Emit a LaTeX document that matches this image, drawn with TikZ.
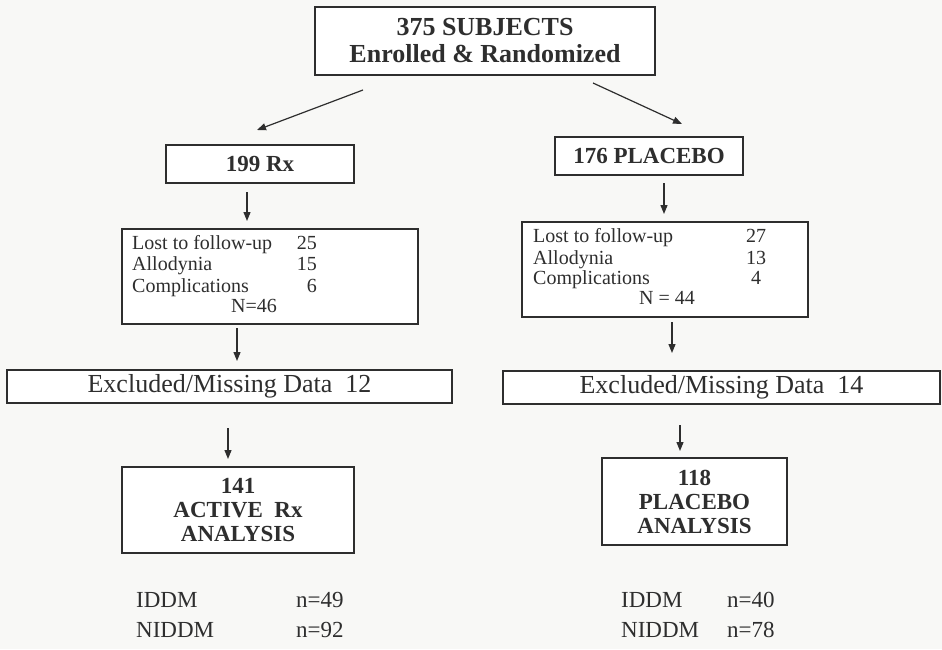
\documentclass[tikz,border=0pt]{standalone}
\usepackage{fontspec}
\setmainfont{Liberation Serif}
\usetikzlibrary{arrows.meta}
\definecolor{ink}{HTML}{2E2E2E}
\definecolor{paper}{HTML}{F8F8F6}
\begin{document}
\begin{tikzpicture}[x=1pt,y=-1pt,
  boldbox/.style={draw=ink,line width=2.8pt,fill=white,text=ink,font=\bfseries\fontsize{23}{24}\selectfont,align=center,inner sep=0pt},
  thinbox/.style={draw=ink,line width=1.3pt,fill=white,inner sep=0pt},
  exbox/.style={draw=ink,line width=1.3pt,fill=white,inner sep=0pt,text=ink,font=\fontsize{26}{27}\selectfont},
  txt/.style={text=ink,inner sep=0pt,text height=0.68em,text depth=0.2em},
  listtxt/.style={txt,font=\fontsize{20}{21}\selectfont},
  lowtxt/.style={txt,font=\fontsize{23}{24}\selectfont},
  conn/.style={draw=ink,line width=1.2pt,-{Triangle[length=9pt,width=7pt]}}
]
\fill[paper] (0,0) rectangle (942,649);
\useasboundingbox (0,0) rectangle (942,649);

% boxes
\node[boldbox,minimum width=340pt,minimum height=68pt,font=\bfseries\fontsize{26}{27}\selectfont] (top) at (485,41) {375 SUBJECTS\\Enrolled \& Randomized};
\node[boldbox,minimum width=188pt,minimum height=38pt] (rx) at (260,164) {199 Rx};
\node[boldbox,minimum width=188pt,minimum height=38pt] (pl) at (649,156) {176 PLACEBO};
\node[thinbox,minimum width=296pt,minimum height=95pt] (ll) at (270,276.5) {};
\node[thinbox,minimum width=286pt,minimum height=95pt] (rl) at (665,269.5) {};
\node[exbox,minimum width=445pt,minimum height=33pt] (le) at (229.5,386.5) {Excluded/Missing Data\ \ 12};
\node[exbox,minimum width=437pt,minimum height=33pt] (re) at (721.5,387.5) {Excluded/Missing Data\ \ 14};
\node[boldbox,minimum width=232pt,minimum height=86pt] (ra) at (238,510) {141\\ACTIVE\ \ Rx\\ANALYSIS};
\node[boldbox,minimum width=185pt,minimum height=87pt] (pa) at (694.5,501.5) {118\\PLACEBO\\ANALYSIS};

% left list text
\node[listtxt,anchor=west] (l1) at (132,247) {Lost to follow-up};
\node[listtxt,anchor=west] (l2) at (132,268) {Allodynia};
\node[listtxt,anchor=west] (l3) at (132,290) {Complications};
\node[listtxt,anchor=east] (l1n) at (317,247) {25};
\node[listtxt,anchor=east] (l2n) at (317,268) {15};
\node[listtxt,anchor=east] (l3n) at (317,290) {6};
\node[listtxt] (lN) at (254,310) {N=46};

% right list text
\node[listtxt,anchor=west] (r1) at (533,240) {Lost to follow-up};
\node[listtxt,anchor=west] (r2) at (533,262) {Allodynia};
\node[listtxt,anchor=west] (r3) at (533,282) {Complications};
\node[listtxt] (r1n) at (756,240) {27};
\node[listtxt] (r2n) at (756,262) {13};
\node[listtxt] (r3n) at (756,282) {4};
\node[listtxt] (rN) at (667,302) {N = 44};

% bottom text
\node[lowtxt,anchor=west] (b1) at (136,605) {IDDM};
\node[lowtxt,anchor=west] (b2) at (296,605) {n=49};
\node[lowtxt,anchor=west] (b3) at (136,635) {NIDDM};
\node[lowtxt,anchor=west] (b4) at (296,635) {n=92};
\node[lowtxt,anchor=west] (b5) at (621,605) {IDDM};
\node[lowtxt,anchor=west] (b6) at (727,605) {n=40};
\node[lowtxt,anchor=west] (b7) at (621,635) {NIDDM};
\node[lowtxt,anchor=west] (b8) at (727,635) {n=78};

% connector ends
\coordinate (a1s) at (363,90);  \coordinate (a1e) at (257,130);
\coordinate (a2s) at (593,83);  \coordinate (a2e) at (682,124);
\coordinate (a3s) at (247,192); \coordinate (a3e) at (247,221);
\coordinate (a4s) at (664,183); \coordinate (a4e) at (664,214);
\coordinate (a5s) at (237,328); \coordinate (a5e) at (237,361);
\coordinate (a6s) at (672,322); \coordinate (a6e) at (672,353);
\coordinate (a7s) at (228,428); \coordinate (a7e) at (228,459);
\coordinate (a8s) at (680,425); \coordinate (a8e) at (680,451);

\draw[conn] (a1s) -- (a1e);
\draw[conn] (a2s) -- (a2e);
\draw[conn] (a3s) -- (a3e);
\draw[conn] (a4s) -- (a4e);
\draw[conn] (a5s) -- (a5e);
\draw[conn] (a6s) -- (a6e);
\draw[conn] (a7s) -- (a7e);
\draw[conn] (a8s) -- (a8e);
\end{tikzpicture}
\end{document}
